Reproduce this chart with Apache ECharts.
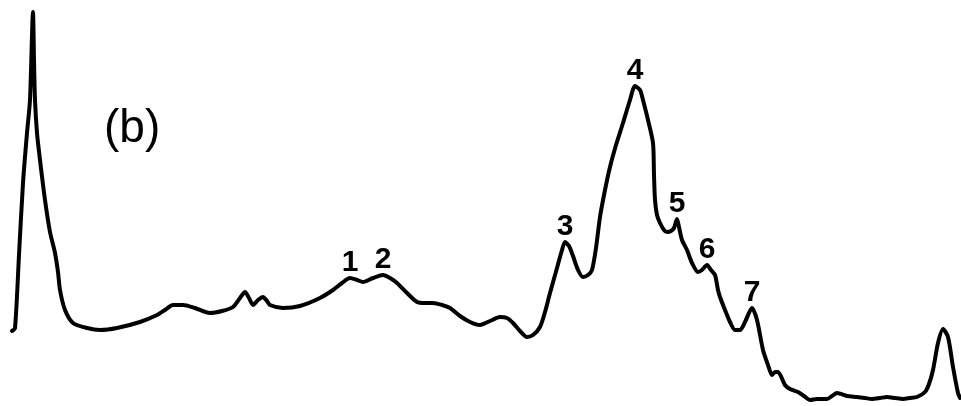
<!DOCTYPE html>
<html>
<head>
<meta charset="utf-8">
<title>Chromatogram (b)</title>
<script src="https://cdn.jsdelivr.net/npm/echarts@6/dist/echarts.min.js"></script>
<style>
  html, body { margin: 0; padding: 0; background: #ffffff; }
  #chart { width: 961px; height: 406px; }
</style>
</head>
<body>
<div id="chart"></div>
<script>
// Retention time (arbitrary units) and detector response of trace (b)
const time = [
  12, 15, 19, 23, 27, 30, 33, 34, 35, 37, 40, 45, 50, 55, 58, 60, 65, 73, 87, 100, 117, 140,
  157, 165, 173, 183, 195, 210, 222, 233, 240, 245, 249, 253, 258, 263, 267, 270, 283, 300, 320, 333,
  342, 350, 357, 363, 373, 383, 390, 397, 407, 417, 425, 433, 442, 450, 460, 470, 480, 490, 500, 507,
  513, 520, 527, 533, 540, 545, 550, 557, 562, 565, 569, 573, 578, 583, 588, 592, 596, 600, 605, 610,
  616, 623, 630, 635, 640, 643, 648, 653, 654, 655, 657, 660, 664, 667, 671, 674, 677, 679, 682, 687,
  692, 698, 702, 707, 711, 715, 718, 720, 725, 730, 735, 740, 745, 752, 757, 763, 768, 772, 775, 778,
  785, 790, 798, 804, 810, 817, 827, 832, 837, 847, 857, 865, 872, 880, 887, 895, 903, 910, 917, 925,
  929, 933, 938, 943, 948, 953, 958, 960
];
const response = [
  75, 78, 151, 223, 273, 306, 394, 346, 306, 273, 246, 206, 174, 153, 134, 116, 96, 83, 78, 76, 78, 84,
  91, 96, 101, 101, 98, 93, 95, 99, 108, 114, 108, 101, 106, 109, 105, 101, 98, 100, 108, 116,
  123, 128, 126, 124, 128, 131, 128, 123, 113, 104, 103, 103, 101, 98, 90, 84, 81, 85, 89, 88,
  83, 75, 69, 71, 79, 94, 113, 138, 156, 164, 160, 150, 136, 129, 131, 136, 158, 189, 216, 239,
  261, 283, 306, 320, 316, 306, 286, 263, 231, 206, 191, 183, 176, 174, 175, 178, 187, 179, 166, 156,
  143, 134, 136, 141, 136, 131, 116, 109, 96, 84, 76, 76, 84, 98, 86, 56, 41, 31, 34, 34,
  21, 17, 14, 10, 6, 7, 7, 10, 13, 10, 9, 8, 7, 8, 9, 8, 7, 8, 9, 14,
  22, 36, 63, 77, 69, 39, 13, 8
];

// Numbered peaks: retention time of each apex and its label
const peakTimes = [350, 383, 565, 635, 677, 707, 752];
const peakLabels = ['1', '2', '3', '4', '5', '6', '7'];

const lineData = time.map((t, i) => [t, response[i]]);
const peakData = peakTimes.map((t, i) => {
  const k = time.indexOf(t);
  return { value: [t, response[k]], name: peakLabels[i] };
});

const chart = echarts.init(document.getElementById('chart'), null, { renderer: 'canvas' });
chart.setOption({
  backgroundColor: '#ffffff',
  animation: false,
  grid: { left: 0, right: 0, top: 0, bottom: 0 },
  xAxis: { type: 'value', min: 0, max: 961, show: false },
  yAxis: { type: 'value', min: 0, max: 406, show: false },
  graphic: [{
    type: 'text',
    left: 104,
    top: 106,
    style: {
      text: '(b)',
      font: '46px "Liberation Sans", Arial, sans-serif',
      fill: '#000000'
    }
  }],
  series: [
    {
      type: 'line',
      data: lineData,
      smooth: 0.25,
      showSymbol: false,
      lineStyle: { color: '#000000', width: 4, cap: 'round', join: 'round' }
    },
    {
      // peak numbers sit just above each apex
      type: 'scatter',
      data: peakData,
      symbolSize: 0,
      itemStyle: { opacity: 1 },
      label: {
        show: true,
        position: 'top',
        distance: 0,
        formatter: p => p.name,
        color: '#000000',
        opacity: 1,
        fontFamily: '"Liberation Sans", Arial, sans-serif',
        fontWeight: 'bold',
        fontSize: 30
      }
    }
  ]
});
</script>
</body>
</html>
